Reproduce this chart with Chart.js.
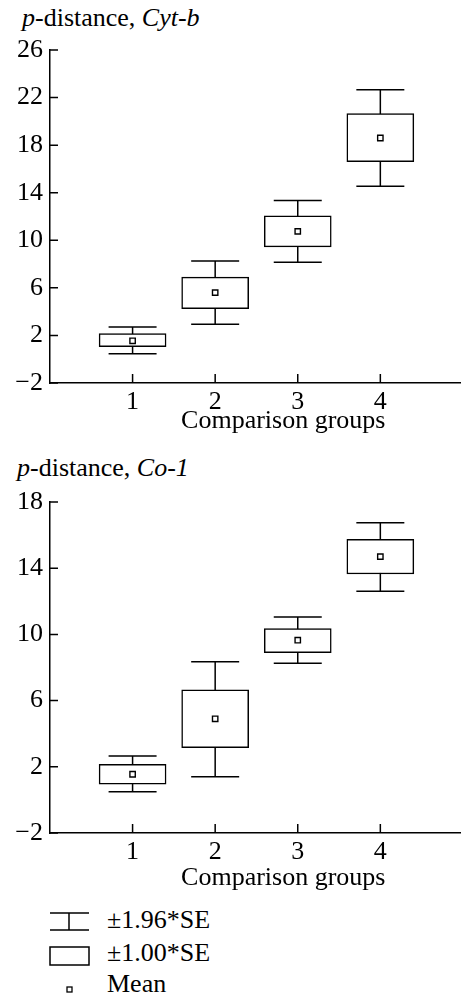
<!DOCTYPE html>
<html>
<head>
<meta charset="utf-8">
<script src="https://cdn.jsdelivr.net/npm/chart.js@4.4.0/dist/chart.umd.min.js"></script>
<style>
  html, body { margin: 0; background: #fff; }
  body { width: 461px; height: 999px; overflow: hidden; position: relative; font-family: "Liberation Serif", serif; color: #000; }
  canvas { position: absolute; left: 0; }
  .ttl, .lg { position: absolute; font-size: 26px; line-height: 26px; white-space: nowrap; }
  .icon { position: absolute; }
</style>
</head>
<body>
<div class="ttl" style="left:22px; top:5px;"><i>p</i>-distance, <i>Cyt-b</i></div>
<canvas id="chartCyt" width="522" height="437" style="top:0px"></canvas>

<div class="ttl" style="left:17px; top:455px;"><i>p</i>-distance, <i>Co-1</i></div>
<canvas id="chartCo" width="522" height="454" style="top:440px"></canvas>

<!-- legend -->
<svg class="icon" style="left:49px; top:911px;" width="42" height="22">
  <path d="M1 2 H40 M1 19 H40 M20 2 V19" stroke="#000" stroke-width="1.5" fill="none"/>
</svg>
<div class="lg" style="left:107px; top:907px;">±1.96*SE</div>
<svg class="icon" style="left:49px; top:946px;" width="42" height="21">
  <rect x="1" y="1" width="39" height="18" stroke="#000" stroke-width="1.5" fill="#fff"/>
</svg>
<div class="lg" style="left:107px; top:940px;">±1.00*SE</div>
<svg class="icon" style="left:66px; top:986px;" width="8" height="8">
  <rect x="1" y="1" width="5" height="5" stroke="#000" stroke-width="1.3" fill="#fff"/>
</svg>
<div class="lg" style="left:107px; top:971px;">Mean</div>

<script>
const groups = [1, 2, 3, 4];

// Cyt-b
const cytMean = [1.55, 5.6, 10.75, 18.6];
const cytSeLow = [1.05, 4.25, 9.45, 16.6];
const cytSeHigh = [2.15, 6.9, 12.05, 20.65];
const cytCiLow = [0.45, 2.95, 8.15, 14.55];
const cytCiHigh = [2.7, 8.25, 13.35, 22.65];
const cytTicks = [-2, 2, 6, 10, 14, 18, 22, 26];

// Co-1
const coMean = [1.55, 4.9, 9.65, 14.7];
const coSeLow = [0.95, 3.15, 8.9, 13.65];
const coSeHigh = [2.15, 6.65, 10.35, 15.75];
const coCiLow = [0.5, 1.4, 8.25, 12.6];
const coCiHigh = [2.65, 8.35, 11.05, 16.75];
const coTicks = [-2, 2, 6, 10, 14, 18];

const serif = { family: '"Liberation Serif", serif', size: 26 };

// whiskers under the boxes + inward tick marks
const boxPlot = {
  id: 'boxPlot',
  beforeDatasetsDraw(chart, args, opts) {
    const { ctx, scales: { x, y } } = chart;
    ctx.save();
    ctx.strokeStyle = '#000';
    ctx.lineWidth = 1.5;
    groups.forEach((g, i) => {
      const px = x.getPixelForValue(g);
      const top = y.getPixelForValue(opts.hi[i]);
      const bot = y.getPixelForValue(opts.lo[i]);
      ctx.beginPath();
      ctx.moveTo(px, top); ctx.lineTo(px, bot);
      ctx.moveTo(px - 24, top); ctx.lineTo(px + 24, top);
      ctx.moveTo(px - 24, bot); ctx.lineTo(px + 24, bot);
      ctx.stroke();
    });
    ctx.restore();
  },
  afterDraw(chart) {
    const { ctx, chartArea, scales: { x, y } } = chart;
    ctx.save();
    ctx.strokeStyle = '#000';
    ctx.lineWidth = 1.5;
    ctx.beginPath();
    y.ticks.forEach(t => {
      const py = y.getPixelForValue(t.value);
      ctx.moveTo(chartArea.left, py); ctx.lineTo(chartArea.left + 8, py);
    });
    x.ticks.forEach(t => {
      const px = x.getPixelForValue(t.value);
      ctx.moveTo(px, chartArea.bottom); ctx.lineTo(px, chartArea.bottom - 9);
    });
    ctx.stroke();
    ctx.restore();
  }
};

function makeChart(id, mean, seLow, seHigh, ciLow, ciHigh, yTicks, padTop, xHeight) {
  return new Chart(document.getElementById(id), {
    type: 'bar',
    data: {
      datasets: [{
        type: 'scatter',
        data: groups.map((g, i) => ({ x: g, y: mean[i] })),
        pointStyle: 'rect',
        pointRadius: 3.8,
        backgroundColor: '#fff',
        borderColor: '#000',
        borderWidth: 1.4
      }, {
        data: groups.map((g, i) => ({ x: g, y: [seLow[i], seHigh[i]] })),
        backgroundColor: '#fff',
        borderColor: '#000',
        borderWidth: 1.5,
        borderSkipped: false,
        barThickness: 67
      }]
    },
    options: {
      responsive: false,
      animation: false,
      layout: { padding: { top: padTop, right: 0, left: 0, bottom: 0 } },
      plugins: {
        legend: { display: false },
        tooltip: { enabled: false },
        boxPlot: { lo: ciLow, hi: ciHigh }
      },
      scales: {
        x: {
          type: 'linear',
          offset: false,
          min: 0,
          max: 5.65,
          afterBuildTicks: s => { s.ticks = groups.map(v => ({ value: v })); },
          afterFit: s => { s.height = xHeight; },
          grid: { drawOnChartArea: false, drawTicks: false },
          border: { display: true, color: '#000', width: 1.5 },
          ticks: { font: serif, color: '#000', padding: 4, maxRotation: 0 },
          title: { display: true, text: 'Comparison groups', font: serif, color: '#000', padding: 0 }
        },
        y: {
          min: yTicks[0],
          max: yTicks[yTicks.length - 1],
          afterBuildTicks: s => { s.ticks = yTicks.map(v => ({ value: v })); },
          afterFit: s => { s.width = 50; },
          grid: { drawOnChartArea: false, drawTicks: false },
          border: { display: true, color: '#000', width: 1.5 },
          ticks: {
            font: serif, color: '#000', padding: 7,
            callback: v => v < 0 ? '\u2212' + Math.abs(v) : String(v)
          }
        }
      }
    },
    plugins: [boxPlot]
  });
}

makeChart('chartCyt', cytMean, cytSeLow, cytSeHigh, cytCiLow, cytCiHigh, cytTicks, 50, 54);
makeChart('chartCo', coMean, coSeLow, coSeHigh, coCiLow, coCiHigh, coTicks, 62, 61);
</script>
</body>
</html>
